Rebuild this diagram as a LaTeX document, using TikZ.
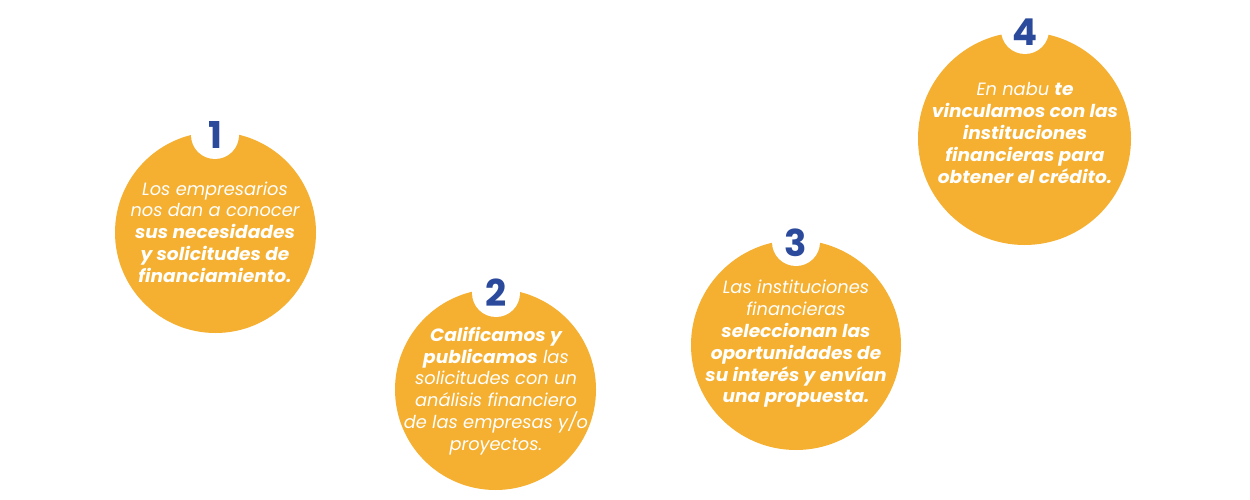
\documentclass[tikz,border=0pt]{standalone}
\usepackage{fontspec}
\setmainfont{Poppins}
\definecolor{nabuorange}{HTML}{F5B031}
\definecolor{nabublue}{HTML}{2C4A9C}
\newcommand\hb[1]{{\bfseries\addfontfeature{FakeStretch=1.045}#1}}
\begin{document}
\begin{tikzpicture}[x=1pt,y=-1pt,
  bigcirc/.style={circle,fill=nabuorange,inner sep=0pt},
  numcirc/.style={circle,fill=white,inner sep=0pt,minimum size=48pt},
  numtext/.style={text=nabublue,font=\fontsize{37}{37}\selectfont\bfseries},
  bodytext/.style={text=white,align=center,font=\fontsize{17.8}{21.8}\selectfont\itshape}]
\useasboundingbox[fill=white] (0,0) rectangle (1250,500);
% circles
\node[bigcirc,minimum size=201pt] (c1) at (215.5,232.5) {};
\node[bigcirc,minimum size=201pt] (c2) at (495.5,389.5) {};
\node[bigcirc,minimum size=210pt] (c3) at (796,345) {};
\node[bigcirc,minimum size=213pt] (c4) at (1024.5,138.5) {};
% number badges
\node[numcirc] (b1) at (215,135) {};
\node[numcirc] (b2) at (496,293) {};
\node[numcirc] (b3) at (796,242) {};
\node[numcirc] (b4) at (1025,30) {};
\node[numtext] (n1) at (215,135) {1};
\node[numtext] (n2) at (496,293) {2};
\node[numtext] (n3) at (796,243) {3};
\node[numtext] (n4) at (1025,32) {4};
% texts
\node[bodytext] (t1) at (215,232) {Los empresarios\\nos dan a conocer\\\hb{sus necesidades}\\\hb{y solicitudes de}\\\hb{financiamiento.}};
\node[bodytext] (t2) at (496,391) {\hb{Calificamos y}\\\hb{publicamos} las\\solicitudes con un\\análisis financiero\\de las empresas y/o\\proyectos.};
\node[bodytext] (t3) at (796,344) {Las instituciones\\financieras\\\hb{seleccionan las}\\\hb{oportunidades de}\\\hb{su interés y envían}\\\hb{una propuesta.}};
\node[bodytext] (t4) at (1025,133) {En nabu \hb{te}\\\hb{vinculamos con las}\\\hb{instituciones}\\\hb{financieras para}\\\hb{obtener el crédito.}};
\end{tikzpicture}
\end{document}
